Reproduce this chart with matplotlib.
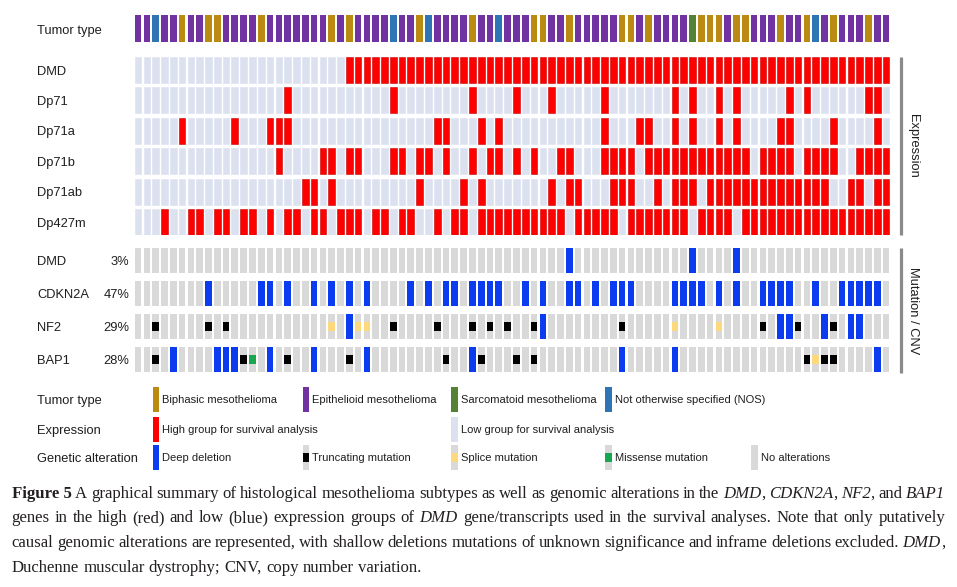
import re
import matplotlib
matplotlib.use("Agg")
import matplotlib.pyplot as plt
from matplotlib.lines import Line2D
from matplotlib.patches import Rectangle
from matplotlib.transforms import blended_transform_factory

W, H, DPI = 957, 587, 100

# ---------------------------------------------------------------- data
# tumor type per sample: P epithelioid, G biphasic, S sarcomatoid, B NOS
tumor_codes = ("PPBPPGPPGG" "PPPPGPPPPP" "PPGPGPPPPB" "PPGBPPPPGP" "PBPPPGGPPG"
               "PPPPPGGPGP" "PPPSGGGPGG" "PPPGPPGBPG" "PPPGPP")

expr_rows = ["DMD", "Dp71", "Dp71a", "Dp71b", "Dp71ab", "Dp427m"]
# 1 = high group, 0 = low group
expr_dmd    = "0000000000" "0000000000" "0000111111" "1111111111" "1111111111" "1111111111" "1111111111" "1111111111" "111111"
expr_dp71   = "0000000000" "0000000100" "0000000001" "0000000010" "0001000100" "0001000000" "0101001010" "0000101000" "000110"
expr_dp71a  = "0000010000" "0100011100" "0000000000" "0000110001" "0100000000" "0001000110" "0101001010" "0001100001" "000010"
expr_dp71b  = "0000000000" "0000001000" "0110110001" "1011010010" "1101010011" "0001111011" "1111111111" "0111101111" "001111"
expr_dp71ab = "0000000000" "0000000001" "1010000000" "0010000101" "0000000101" "1000111001" "0111011111" "1111111110" "011011"
expr_dp427m = "0001001101" "1011010110" "1101110110" "1100101101" "1111111110" "1111101111" "1110111101" "1111111111" "111111"
expr_values = [expr_dmd, expr_dp71, expr_dp71a, expr_dp71b, expr_dp71ab, expr_dp427m]

mut_rows = ["DMD", "CDKN2A", "NF2", "BAP1"]
mut_pct_labels = ["3%", "47%", "29%", "28%"]
# . none, D deep deletion, T truncating, S splice, M missense
mut_dmd    = ".........." ".........." ".........." ".........." ".........D" ".........." "...D....D." ".........." "......"
mut_cdkn2a = "........D." "....DD.D.." "D.D.D.D..." ".D.D.DD.DD" "DD..D.D..D" "D.D.DDD..." ".DDDD.D.D." ".DDDD..D.." "DDDDD."
mut_nf2    = "..T.....T." "T........." "..S.DSS..T" "....T...T." "T.T..TD..." ".....T...." ".S....S..." ".T.DDT..DT" ".DD..."
mut_bap1   = "..T.D....D" "DDTM.D.T.." "D...T.D..." ".....T..DT" "...T.T...." ".....D...." ".D........" "......TSTT" "....D."
mut_values = [mut_dmd, mut_cdkn2a, mut_nf2, mut_bap1]

legend_tumor = [("G", "Biphasic mesothelioma"), ("P", "Epithelioid mesothelioma"),
                ("S", "Sarcomatoid mesothelioma"), ("B", "Not otherwise specified (NOS)")]
legend_expr = [("1", "High group for survival analysis"), ("0", "Low group for survival analysis")]
legend_mut = [("D", "Deep deletion"), ("T", "Truncating mutation"), ("S", "Splice mutation"),
              ("M", "Missense mutation"), (".", "No alterations")]

# "~" marks a space inside one styled word
caption_lines = [
    "**Figure~5** A graphical summary of histological mesothelioma subtypes as well as genomic alterations in the *DMD*, *CDKN2A*, *NF2*, and *BAP1*",
    "genes in the high (red) and low (blue) expression groups of *DMD* gene/transcripts used in the survival analyses. Note that only putatively",
    "causal genomic alterations are represented, with shallow deletions mutations of unknown significance and inframe deletions excluded. *DMD*,",
    "Duchenne muscular dystrophy; CNV, copy number variation.",
]

# ---------------------------------------------------------------- style
tumor_colors = {"G": "#bb8a12", "P": "#7233a2", "S": "#538234", "B": "#2f74b5"}
expr_colors = {"1": "#fe0000", "0": "#dce1f0"}
expr_edges = {"1": "#c80000", "0": "#dce1f0"}
gray = "#d9d9d9"
mut_colors = {"D": "#0b3cf0", "T": "#000000", "S": "#fdd87c", "M": "#18a650"}
label_color = "#1e1e1e"
SANS = ["Liberation Sans", "DejaVu Sans"]
SERIF = ["Liberation Serif", "DejaVu Serif"]
plt.rcParams["font.family"] = SANS

n = len(tumor_codes)
x0_px, pitch_px, cellw_px = 134.7, 8.8, 6.7
cw = cellw_px / pitch_px
xs = list(range(n))

fig = plt.figure(figsize=(W / DPI, H / DPI), dpi=DPI)
fig.patch.set_facecolor("white")


def px_axes(left, top, right, bottom):
    ax = fig.add_axes([left / W, 1 - bottom / H, (right - left) / W, (bottom - top) / H])
    ax.set_axis_off()
    return ax


def fx(x):
    return x / W


def fy(y):
    return 1 - y / H


grid_right = x0_px + n * pitch_px

# ---------------------------------------------------------------- tumor type row
ax_t = px_axes(x0_px, 15, grid_right, 41.7)
ax_t.set_xlim(0, n)
ax_t.set_ylim(1, 0)
ax_t.bar(xs, [1] * n, width=cw, bottom=0, align="edge",
         color=[tumor_colors[c] for c in tumor_codes], linewidth=0)
tr = blended_transform_factory(fig.transFigure, ax_t.transData)
ax_t.text(fx(37), 0.6, "Tumor type", transform=tr, ha="left", va="center",
          fontsize=9.3, color=label_color)

# ---------------------------------------------------------------- expression rows
e_top, e_pitch, e_h = 57.0, 30.45, 26.0
hf = e_h / e_pitch
ax_e = px_axes(x0_px, e_top, grid_right, e_top + (len(expr_rows) - 1) * e_pitch + e_h)
ax_e.set_xlim(0, n)
ax_e.set_ylim(len(expr_rows) - 1 + hf, 0)
tr = blended_transform_factory(fig.transFigure, ax_e.transData)
for r, (name, vals) in enumerate(zip(expr_rows, expr_values)):
    ax_e.bar(xs, [hf] * n, width=cw, bottom=r, align="edge",
             color=[expr_colors[v] for v in vals],
             edgecolor=[expr_edges[v] for v in vals], linewidth=0.4)
    ax_e.text(fx(37), r + hf / 2 + 0.05, name, transform=tr, ha="left", va="center",
              fontsize=9.3, color=label_color)

# ---------------------------------------------------------------- mutation rows
m_top, m_pitch, m_h, sq_h = 248.3, 32.8, 25.0, 9.0
mf = m_h / m_pitch
sf = sq_h / m_pitch
ax_m = px_axes(x0_px, m_top, grid_right, m_top + (len(mut_rows) - 1) * m_pitch + m_h)
ax_m.set_xlim(0, n)
ax_m.set_ylim(len(mut_rows) - 1 + mf, 0)
tr = blended_transform_factory(fig.transFigure, ax_m.transData)
for r, (name, vals, pct) in enumerate(zip(mut_rows, mut_values, mut_pct_labels)):
    ax_m.bar(xs, [mf] * n, width=cw, bottom=r, align="edge", color=gray, linewidth=0)
    deep = [i for i, v in enumerate(vals) if v == "D"]
    if deep:
        ax_m.bar(deep, [mf] * len(deep), width=cw, bottom=r, align="edge",
                 color=mut_colors["D"], linewidth=0)
    small = [i for i, v in enumerate(vals) if v in "TSM"]
    if small:
        ax_m.bar(small, [sf] * len(small), width=cw, bottom=r + (mf - sf) / 2, align="edge",
                 color=[mut_colors[vals[i]] for i in small], linewidth=0)
    ax_m.text(fx(37), r + mf / 2 + 0.04, name, transform=tr, ha="left", va="center",
              fontsize=9.3, color=label_color)
    ax_m.text(fx(129.5), r + mf / 2 + 0.04, pct, transform=tr, ha="right", va="center",
              fontsize=9.3, color=label_color)

# ---------------------------------------------------------------- side brackets
bar_x = 901
for top, bot, lab in [(e_top, e_top + (len(expr_rows) - 1) * e_pitch + e_h, "Expression"),
                      (m_top, m_top + (len(mut_rows) - 1) * m_pitch + m_h + 1, "Mutation / CNV")]:
    fig.add_artist(Line2D([fx(bar_x), fx(bar_x)], [fy(top), fy(bot)], color="#8a8a8a",
                          linewidth=2.3, solid_capstyle="butt"))
    fig.text(fx(913), fy((top + bot) / 2), lab, rotation=270, ha="center", va="center",
             fontsize=9.3, color=label_color)

# ---------------------------------------------------------------- legend
ax_l = px_axes(0, 0, W, H)
ax_l.set_xlim(0, W)
ax_l.set_ylim(H, 0)
ax_l.set_zorder(-1)
col_x = [152.5, 302.5, 451.0, 605.0, 751.0]
leg_rows = [("Tumor type", 387.0), ("Expression", 416.7), ("Genetic alteration", 445.0)]
ph = 25.0
for (title, top) in leg_rows:
    ax_l.text(37, top + ph / 2 + 1.5, title, ha="left", va="center", fontsize=9.3, color=label_color)

top = leg_rows[0][1]
for ci, (code, lab) in enumerate(legend_tumor):
    ax_l.add_patch(Rectangle((col_x[ci], top), cellw_px, ph, color=tumor_colors[code], lw=0))
    ax_l.text(col_x[ci] + 10, top + ph / 2 + 0.5, lab, ha="left", va="center", fontsize=8, color=label_color)

top = leg_rows[1][1]
for ci, (code, lab) in zip([0, 2], legend_expr):
    ax_l.add_patch(Rectangle((col_x[ci], top), cellw_px, ph, color=expr_colors[code], lw=0))
    ax_l.text(col_x[ci] + 10, top + ph / 2 + 0.5, lab, ha="left", va="center", fontsize=8, color=label_color)

top = leg_rows[2][1]
for ci, (code, lab) in enumerate(legend_mut):
    if code == "D":
        ax_l.add_patch(Rectangle((col_x[ci], top), cellw_px, ph, color=mut_colors["D"], lw=0))
    else:
        ax_l.add_patch(Rectangle((col_x[ci], top), cellw_px, ph, color=gray, lw=0))
        if code in mut_colors:
            ax_l.add_patch(Rectangle((col_x[ci], top + 7.5), cellw_px, sq_h, color=mut_colors[code], lw=0))
    ax_l.text(col_x[ci] + 10, top + ph / 2 + 0.5, lab, ha="left", va="center", fontsize=8, color=label_color)

# ---------------------------------------------------------------- caption (justified)
renderer = fig.canvas.get_renderer()


def parse_words(line):
    words = []
    for w in line.split(" "):
        segs = []
        for part in re.split(r"(\*\*[^*]+\*\*|\*[^*]+\*)", w):
            if not part:
                continue
            if part.startswith("**"):
                segs.append((part[2:-2].replace("~", " "), "bold", "normal"))
            elif part.startswith("*"):
                segs.append((part[1:-1].replace("~", " "), "normal", "italic"))
            else:
                segs.append((part.replace("~", " "), "normal", "normal"))
        words.append(segs)
    return words


def measure(text, size, weight, style):
    t = fig.text(0, 0, text, fontsize=size, family=SERIF, weight=weight, style=style)
    w = t.get_window_extent(renderer).width
    t.remove()
    return w


# fit font size so that the last (natural) line has the reference width
ref_size = 10.0
last_words = parse_words(caption_lines[-1])
nat = sum(measure(s, ref_size, wgt, sty) for wd in last_words for (s, wgt, sty) in wd)
nat += (len(last_words) - 1) * (measure("a a", ref_size, "normal", "normal")
                                - measure("aa", ref_size, "normal", "normal"))
cap_size = ref_size * (421.0 - 11.7) / nat

cap_left, cap_right = 11.7, 945.0
baselines = [497.5, 522.2, 546.9, 571.6]
space_w = measure("a a", cap_size, "normal", "normal") - measure("aa", cap_size, "normal", "normal")
for li, (line, base) in enumerate(zip(caption_lines, baselines)):
    words = parse_words(line)
    widths = [[measure(s, cap_size, wgt, sty) for (s, wgt, sty) in wd] for wd in words]
    total = sum(sum(w) for w in widths)
    if li < len(caption_lines) - 1 and len(words) > 1:
        gap = (cap_right - cap_left - total) / (len(words) - 1)
    else:
        gap = space_w
    x = cap_left
    for wd, ws in zip(words, widths):
        for (s, wgt, sty), w in zip(wd, ws):
            fig.text(fx(x), fy(base), s, fontsize=cap_size, family=SERIF, weight=wgt, style=sty,
                     ha="left", va="baseline", color="#231f20")
            x += w
        x += gap

fig.savefig("out.png", dpi=DPI, facecolor="white")
